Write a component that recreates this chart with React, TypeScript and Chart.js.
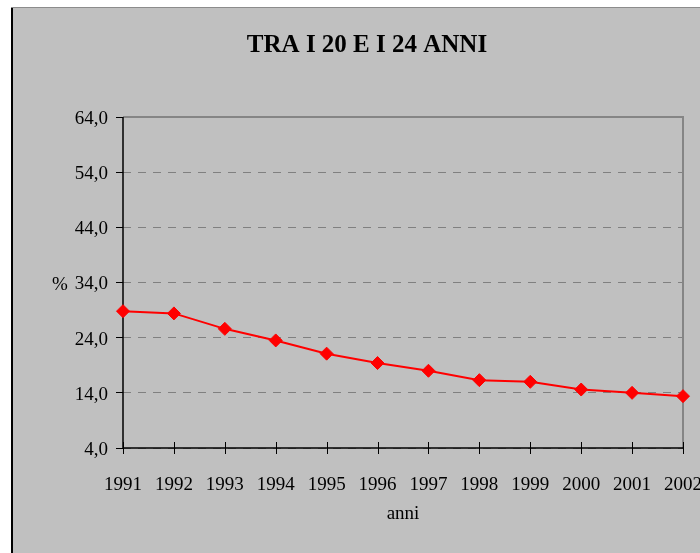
import React, { useEffect, useRef } from "react";
import { Chart, registerables } from "chart.js";

Chart.register(...registerables);

const years = ["1991", "1992", "1993", "1994", "1995", "1996", "1997", "1998", "1999", "2000", "2001", "2002"];
const values = [28.8, 28.4, 25.6, 23.5, 21.1, 19.4, 18.0, 16.3, 16.0, 14.6, 14.0, 13.4];
const yMin = 4;
const yMax = 64;
const yStep = 10;
const titleText = "TRA I 20 E I 24 ANNI";
const yTitleText = "%";
const xTitleText = "anni";

const FONT = "'Liberation Serif', 'Times New Roman', Times, serif";

export default function App() {
  const ref = useRef<HTMLCanvasElement>(null);

  useEffect(() => {
    if (!ref.current) return;

    const framePlugin = {
      id: "frame",
      beforeDraw(chart: any) {
        const { ctx, width, height } = chart;
        ctx.save();
        ctx.fillStyle = "#ffffff";
        ctx.fillRect(0, 0, width, height);
        ctx.fillStyle = "#c0c0c0";
        ctx.fillRect(11, 7, width, height);
        ctx.fillStyle = "#8c8c8c";
        ctx.fillRect(11, 7, width, 1);
        ctx.fillStyle = "#000000";
        ctx.fillRect(11, 8, 2, height);
        ctx.restore();
      },
      beforeDatasetsDraw(chart: any) {
        const { ctx, chartArea } = chart;
        const { left, right, top, bottom } = chartArea;
        const xs = chart.scales.x;
        ctx.save();
        // plot area top/right border (gray)
        ctx.strokeStyle = "#858585";
        ctx.lineWidth = 2;
        ctx.beginPath();
        ctx.moveTo(left, top);
        ctx.lineTo(right, top);
        ctx.lineTo(right, bottom);
        ctx.stroke();
        // axes (black)
        ctx.strokeStyle = "#000000";
        ctx.lineWidth = 1.5;
        ctx.beginPath();
        ctx.moveTo(left, top);
        ctx.lineTo(left, bottom);
        ctx.lineTo(right, bottom);
        ctx.stroke();
        // crossing tick marks on x axis
        ctx.lineWidth = 1;
        xs.ticks.forEach((_t: any, i: number) => {
          const x = Math.round(xs.getPixelForTick(i)) + 0.5;
          ctx.beginPath();
          ctx.moveTo(x, bottom - 6);
          ctx.lineTo(x, bottom + 6);
          ctx.stroke();
        });
        ctx.restore();
      },
      afterDraw(chart: any) {
        const { ctx, chartArea } = chart;
        ctx.save();
        ctx.fillStyle = "#000000";
        ctx.textAlign = "center";
        ctx.textBaseline = "alphabetic";
        ctx.font = `bold 25px ${FONT}`;
        ctx.fillText(titleText, 367, 52);
        ctx.font = `19px ${FONT}`;
        ctx.fillText(yTitleText, 60, 290);
        ctx.fillText(xTitleText, (chartArea.left + chartArea.right) / 2, 519);
        ctx.restore();
      },
    };

    const chart = new Chart(ref.current, {
      type: "line",
      data: {
        labels: years,
        datasets: [
          {
            data: values,
            borderColor: "#ff0000",
            backgroundColor: "#ff0000",
            borderWidth: 2,
            pointStyle: "rectRot",
            pointRadius: 6.5,
            pointBorderWidth: 1,
            pointBackgroundColor: "#ff0000",
            pointBorderColor: "#ff0000",
            tension: 0,
            fill: false,
          },
        ],
      },
      options: {
        animation: false,
        responsive: false,
        devicePixelRatio: 1,
        layout: { padding: { left: 0, top: 117, right: 57, bottom: 0 } },
        plugins: {
          legend: { display: false },
          title: { display: false },
          tooltip: { enabled: false },
        },
        scales: {
          x: {
            type: "category",
            offset: false,
            grid: {
              display: true,
              drawOnChartArea: false,
              drawTicks: true,
              tickLength: 6,
              color: "rgba(0,0,0,0)",
              tickColor: "rgba(0,0,0,0)",
            },
            border: { display: false },
            ticks: {
              color: "#000000",
              font: { family: FONT, size: 19 },
              padding: 20,
              maxRotation: 0,
              minRotation: 0,
              autoSkip: false,
            },
            afterFit: (s: any) => {
              s.height = 105;
            },
          },
          y: {
            min: yMin,
            max: yMax,
            ticks: {
              stepSize: yStep,
              color: "#000000",
              font: { family: FONT, size: 19 },
              padding: 8,
              labelOffset: 2,
              callback: (v: any) => Number(v).toFixed(1).replace(".", ","),
            },
            grid: {
              color: "#808080",
              tickColor: "#000000",
              tickLength: 7,
              lineWidth: 1,
            },
            border: { display: false, dash: [8, 7] },
            afterFit: (s: any) => {
              s.width = 123;
            },
          },
        },
      },
      plugins: [framePlugin],
    } as any);

    return () => chart.destroy();
  }, []);

  return (
    <div
      style={{
        position: "fixed",
        left: 0,
        top: 0,
        width: 700,
        height: 553,
        overflow: "hidden",
        background: "#ffffff",
      }}
    >
      <canvas ref={ref} width={740} height={553} style={{ display: "block" }} />
    </div>
  );
}
